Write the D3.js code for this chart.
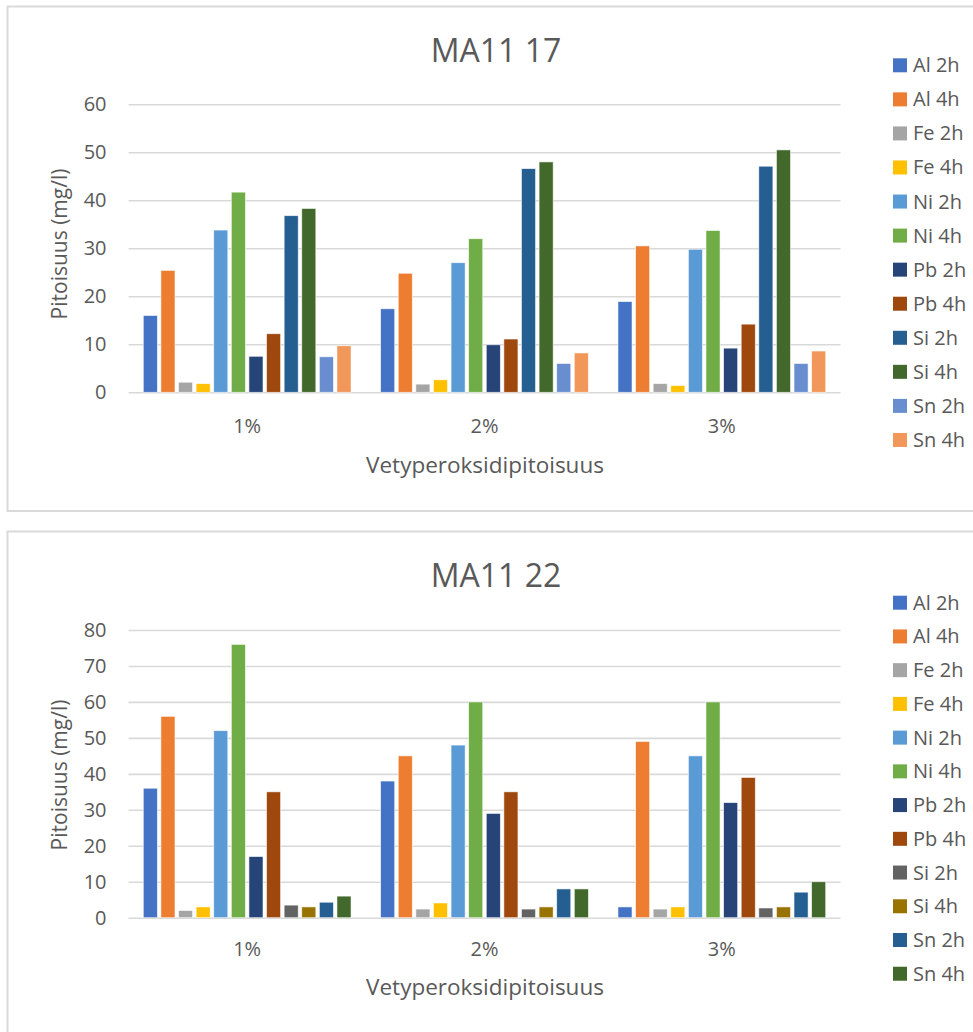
<!DOCTYPE html>
<html>
<head>
<meta charset="utf-8">
<script src="https://cdn.jsdelivr.net/npm/d3@7"></script>
<style>
  html, body { margin: 0; padding: 0; background: #fff; }
  svg { display: block; font-family: "Open Sans", "Noto Sans", sans-serif; }
</style>
</head>
<body>
<svg id="chart" width="973" height="1032"></svg>
<script>
// Hydrogen peroxide concentrations on the x axis
const categories = ["1%", "2%", "3%"];

// MA11 17 — series names, one value per series in each concentration group
const seriesMA1117 = ["Al 2h", "Al 4h", "Fe 2h", "Fe 4h", "Ni 2h", "Ni 4h",
                      "Pb 2h", "Pb 4h", "Si 2h", "Si 4h", "Sn 2h", "Sn 4h"];
const ma1117_1 = [16.0, 25.4, 2.1, 1.8, 33.8, 41.7, 7.5, 12.2, 36.8, 38.3, 7.4, 9.7];
const ma1117_2 = [17.4, 24.8, 1.7, 2.6, 27.0, 32.0, 9.9, 11.1, 46.6, 48.0, 6.0, 8.2];
const ma1117_3 = [18.9, 30.5, 1.8, 1.4, 29.8, 33.7, 9.2, 14.2, 47.1, 50.5, 6.0, 8.6];
const ticksMA1117 = [0, 10, 20, 30, 40, 50, 60];

// MA11 22
const seriesMA1122 = ["Al 2h", "Al 4h", "Fe 2h", "Fe 4h", "Ni 2h", "Ni 4h",
                      "Pb 2h", "Pb 4h", "Si 2h", "Si 4h", "Sn 2h", "Sn 4h"];
const ma1122_1 = [36, 56, 2.0, 3.0, 52, 76, 17, 35, 3.5, 3.0, 4.3, 6.0];
const ma1122_2 = [38, 45, 2.4, 4.1, 48, 60, 29, 35, 2.4, 3.0, 8.0, 8.0];
const ma1122_3 = [3.0, 49, 2.4, 3.0, 45, 60, 32, 39, 2.7, 3.0, 7.1, 10];
const ticksMA1122 = [0, 10, 20, 30, 40, 50, 60, 70, 80];

// Series fill colours
const colorsMA1117 = ["#4472C4", "#ED7D31", "#A5A5A5", "#FFC000", "#5B9BD5", "#70AD47",
                      "#264478", "#9E480E", "#255E91", "#43682B", "#698ED0", "#F1975A"];
const colorsMA1122 = ["#4472C4", "#ED7D31", "#A5A5A5", "#FFC000", "#5B9BD5", "#70AD47",
                      "#264478", "#9E480E", "#636363", "#997300", "#255E91", "#43682B"];

const textColor = "#595959";
const gridColor = "#D9D9D9";
const svg = d3.select("#chart");

function drawChart(opt) {
  const g = svg.append("g");

  // chart frame
  g.append("rect")
    .attr("x", 7.5).attr("y", opt.frameTop)
    .attr("width", 1000).attr("height", opt.frameHeight)
    .attr("fill", "#fff").attr("stroke", gridColor).attr("stroke-width", 2);

  const x0 = d3.scaleBand().domain(categories).range([128.5, 840.5]).paddingInner(0).paddingOuter(0);
  const x1 = d3.scaleBand().domain(opt.series).range([0, x0.bandwidth()])
    .paddingInner(0.2).paddingOuter(0.84);
  const yMax = d3.max(opt.ticks);
  const y = d3.scaleLinear().domain([0, yMax]).range([opt.yZero, opt.yTop]);

  // value axis with gridlines
  const yAxis = g.append("g")
    .attr("transform", "translate(128.5,0)")
    .call(d3.axisLeft(y).tickValues(opt.ticks).tickSize(-712).tickPadding(22).tickFormat(d3.format("d")));
  yAxis.select(".domain").remove();
  yAxis.selectAll(".tick line").attr("stroke", gridColor).attr("stroke-width", 1.6);
  yAxis.selectAll(".tick text").attr("fill", textColor).style("font-size", "20px")
    .style("font-family", "'Open Sans', sans-serif");

  // category axis
  const xAxis = g.append("g")
    .attr("transform", `translate(0,${opt.yZero})`)
    .call(d3.axisBottom(x0).tickSize(0).tickPadding(opt.xTickPad));
  xAxis.select(".domain").remove();
  xAxis.selectAll(".tick text").attr("fill", textColor).style("font-size", "20px")
    .style("font-family", "'Open Sans', sans-serif");

  // bars
  const groups = g.append("g").selectAll("g")
    .data(categories.map((c, i) => ({ cat: c, vals: opt.values[i] })))
    .join("g")
    .attr("transform", d => `translate(${x0(d.cat)},0)`);
  groups.selectAll("rect")
    .data(d => opt.series.map((s, j) => ({ s, v: d.vals[j], c: opt.colors[j] })))
    .join("rect")
    .attr("x", d => x1(d.s))
    .attr("y", d => y(d.v))
    .attr("width", x1.bandwidth())
    .attr("height", d => y(0) - y(d.v))
    .attr("fill", d => d.c)
    .attr("stroke", "#fff")
    .attr("stroke-opacity", 0.7)
    .attr("stroke-width", 0.8);

  // title
  g.append("text")
    .attr("x", 496).attr("y", opt.titleY)
    .attr("text-anchor", "middle")
    .attr("fill", textColor).style("font-size", "32px")
    .text(opt.title);

  // axis titles
  g.append("text")
    .attr("x", 485).attr("y", opt.xTitleY)
    .attr("text-anchor", "middle")
    .attr("fill", textColor).style("font-size", "22.5px")
    .text("Vetyperoksidipitoisuus");
  g.append("text")
    .attr("transform", `translate(67,${opt.yTitleY}) rotate(-90)`)
    .attr("text-anchor", "middle")
    .attr("fill", textColor).style("font-size", "21px")
    .text("Pitoisuus (mg/l)");

  // legend
  const leg = g.append("g").selectAll("g")
    .data(opt.series)
    .join("g")
    .attr("transform", (d, i) => `translate(893,${opt.legendY + i * opt.legendStep})`);
  leg.append("rect")
    .attr("x", 0).attr("y", -7).attr("width", 14).attr("height", 14)
    .attr("fill", (d, i) => opt.colors[i]);
  leg.append("text")
    .attr("x", 20).attr("y", 7)
    .attr("fill", textColor).style("font-size", "20px")
    .text(d => d);
}

drawChart({
  frameTop: 6.5, frameHeight: 504.5,
  title: "MA11 17", titleY: 62,
  series: seriesMA1117, colors: colorsMA1117,
  values: [ma1117_1, ma1117_2, ma1117_3],
  ticks: ticksMA1117, yZero: 392.3, yTop: 104.3,
  xTickPad: 27, xTitleY: 473, yTitleY: 244,
  legendY: 65.3, legendStep: 34.06
});

drawChart({
  frameTop: 531.5, frameHeight: 600,
  title: "MA11 22", titleY: 587,
  series: seriesMA1122, colors: colorsMA1122,
  values: [ma1122_1, ma1122_2, ma1122_3],
  ticks: ticksMA1122, yZero: 917.7, yTop: 630,
  xTickPad: 24, xTitleY: 995, yTitleY: 775,
  legendY: 602.7, legendStep: 33.73
});
</script>
</body>
</html>
